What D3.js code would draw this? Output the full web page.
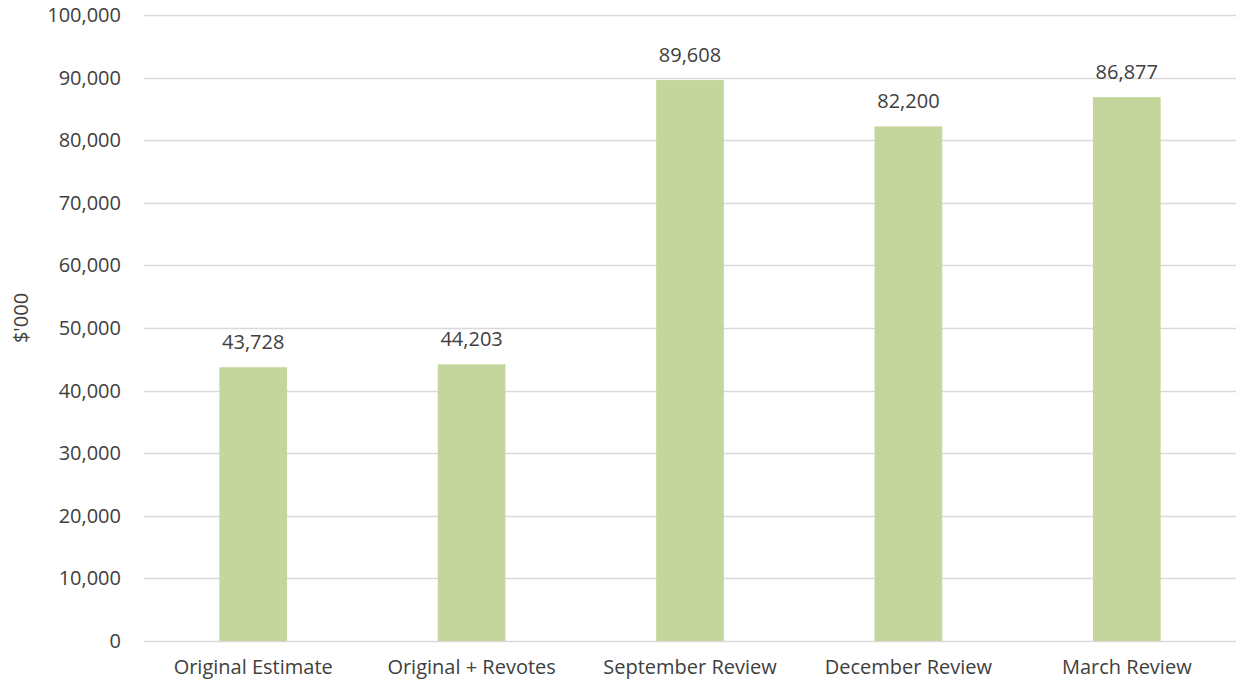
<!DOCTYPE html>
<meta charset="utf-8">
<script src="https://cdn.jsdelivr.net/npm/d3@7"></script>
<style>
  body { margin: 0; background: #fff; }
  text { font-family: "Open Sans", sans-serif; fill: #404040; }
</style>
<div id="chart"></div>
<script>
// data
var categories = ["Original Estimate", "Original + Revotes", "September Review", "December Review", "March Review"];
var values = [43728, 44203, 89608, 82200, 86877];
var yTicks = [0, 10000, 20000, 30000, 40000, 50000, 60000, 70000, 80000, 90000, 100000];

var W = 1236, H = 690;
var margin = {top: 15, right: 0, bottom: 49, left: 144};
var width = W - margin.left - margin.right,
    height = H - margin.top - margin.bottom;
var fs = "20px";

var svg = d3.select("#chart").append("svg")
    .attr("width", W).attr("height", H)
  .append("g")
    .attr("transform", "translate(" + margin.left + "," + margin.top + ")");

var x = d3.scaleBand().domain(categories).range([0, width])
    .paddingInner(0.69).paddingOuter(0.345);
var y = d3.scaleLinear().domain([0, 100000]).range([height, 0]);
var fmt = d3.format(",");

// gridlines
svg.selectAll(".grid").data(yTicks).enter().append("line")
    .attr("x1", 0).attr("x2", width)
    .attr("y1", function(d) { return Math.round(y(d)) + 0.5; })
    .attr("y2", function(d) { return Math.round(y(d)) + 0.5; })
    .attr("stroke", "#d9d9d9").attr("stroke-width", 1.3);

// y tick labels
var yAxis = svg.append("g")
    .call(d3.axisLeft(y).tickValues(yTicks).tickFormat(fmt).tickSize(0).tickPadding(23));
yAxis.select(".domain").remove();
yAxis.selectAll("text").style("font-size", fs).style("font-family", "'Open Sans', sans-serif").attr("fill", "#404040");

// bars
svg.selectAll(".bar").data(values).enter().append("rect")
    .attr("x", function(d, i) { return x(categories[i]); })
    .attr("width", x.bandwidth())
    .attr("y", function(d) { return y(d); })
    .attr("height", function(d) { return height - y(d); })
    .attr("fill", "#c4d69b");

// value labels
svg.selectAll(".lbl").data(values).enter().append("text")
    .attr("x", function(d, i) { return x(categories[i]) + x.bandwidth() / 2; })
    .attr("y", function(d) { return y(d) - 18; })
    .attr("text-anchor", "middle")
    .style("font-size", fs)
    .text(function(d) { return fmt(d); });

// x labels
var xAxis = svg.append("g")
    .attr("transform", "translate(0," + height + ")")
    .call(d3.axisBottom(x).tickSize(0).tickPadding(19));
xAxis.select(".domain").remove();
xAxis.selectAll("text").style("font-size", fs).style("font-family", "'Open Sans', sans-serif").attr("fill", "#404040");

// y title
svg.append("text")
    .attr("transform", "translate(" + (-116) + "," + (height / 2 - 10) + ") rotate(-90)")
    .attr("text-anchor", "middle")
    .style("font-size", fs)
    .text("$'000");
</script>
